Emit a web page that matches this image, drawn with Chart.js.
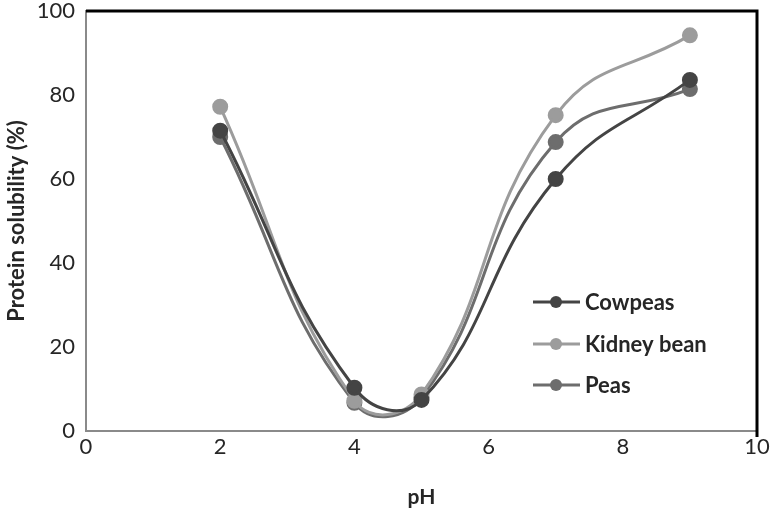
<!DOCTYPE html>
<html>
<head>
<meta charset="utf-8">
<script src="https://cdn.jsdelivr.net/npm/chart.js@4/dist/chart.umd.min.js"></script>
<style>
  html, body { margin: 0; padding: 0; background: #fff; }
  #wrap { width: 774px; height: 514px; }
</style>
</head>
<body>
<div id="wrap"><canvas id="chart" width="774" height="514"></canvas></div>
<script>
const phValues = [2, 4, 5, 7, 9];
const cowpeas = [71.5, 10.3, 7.4, 60, 83.6];
const kidneyBean = [77.2, 7.2, 8.7, 75.2, 94.2];
const peas = [70, 6.7, 8, 68.8, 81.4];
const seriesNames = ['Cowpeas', 'Kidney bean', 'Peas'];
const seriesColors = ['#444444', '#9c9c9c', '#6d6d6d'];

const fontFamily = "Lato, 'Open Sans', sans-serif";

function toPoints(values) {
    return values.map((v, i) => ({ x: phValues[i], y: v }));
}

const datasets = [cowpeas, kidneyBean, peas].map((values, i) => ({
    label: seriesNames[i],
    data: toPoints(values),
    borderColor: seriesColors[i],
    backgroundColor: seriesColors[i],
    borderWidth: 3,
    pointRadius: 6.5,
    pointHoverRadius: 6.5,
    tension: 0.45,
    clip: false
}));

// draws the black top/right frame and the legend inside the plot
const framePlugin = {
    id: 'frame',
    afterDraw(chart) {
        const ctx = chart.ctx;
        const a = chart.chartArea;
        ctx.save();
        ctx.strokeStyle = '#000';
        ctx.lineWidth = 3;
        ctx.beginPath();
        ctx.moveTo(a.left, a.top);
        ctx.lineTo(a.right, a.top);
        ctx.lineTo(a.right, a.bottom + 6);
        ctx.stroke();

        const rows = [302, 344, 385];
        ctx.font = "bold 22px " + fontFamily;
        ctx.textBaseline = 'middle';
        chart.data.datasets.forEach((ds, i) => {
            const y = rows[i];
            ctx.strokeStyle = ds.borderColor;
            ctx.lineWidth = 3;
            ctx.beginPath();
            ctx.moveTo(533, y);
            ctx.lineTo(580, y);
            ctx.stroke();
            ctx.fillStyle = ds.backgroundColor;
            ctx.beginPath();
            ctx.arc(556, y, 6, 0, Math.PI * 2);
            ctx.fill();
            ctx.fillStyle = '#262626';
            ctx.fillText(ds.label, 585, y + 1);
        });
        ctx.restore();
    }
};

new Chart(document.getElementById('chart'), {
    type: 'line',
    data: { datasets: datasets },
    options: {
        responsive: false,
        animation: false,
        layout: { padding: { top: 11, right: 17, left: 0, bottom: 0 } },
        plugins: {
            legend: { display: false },
            tooltip: { enabled: false }
        },
        scales: {
            x: {
                type: 'linear',
                min: 0,
                max: 10,
                ticks: { stepSize: 2, color: '#262626', font: { family: fontFamily, size: 22 }, padding: 3 },
                grid: { display: false, drawTicks: false },
                border: { color: '#8a8a8a', width: 2 },
                title: { display: true, text: 'pH', color: '#262626', font: { family: fontFamily, size: 21, weight: 'bold' }, padding: { top: 20 } },
                afterFit(scale) {
                    scale.height = 83;
                    scale.paddingLeft = 0;
                    scale.paddingRight = 0;
                }
            },
            y: {
                min: 0,
                max: 100,
                ticks: { stepSize: 20, color: '#262626', font: { family: fontFamily, size: 22 }, padding: 11 },
                grid: { display: false, drawTicks: false },
                border: { color: '#8a8a8a', width: 2 },
                title: { display: true, text: 'Protein solubility (%)', color: '#262626', font: { family: fontFamily, size: 22, weight: 'bold' }, padding: { bottom: 2 } },
                afterFit(scale) {
                    scale.width = 86;
                    scale.paddingTop = 0;
                    scale.paddingBottom = 0;
                }
            }
        }
    },
    plugins: [framePlugin]
});
</script>
</body>
</html>
